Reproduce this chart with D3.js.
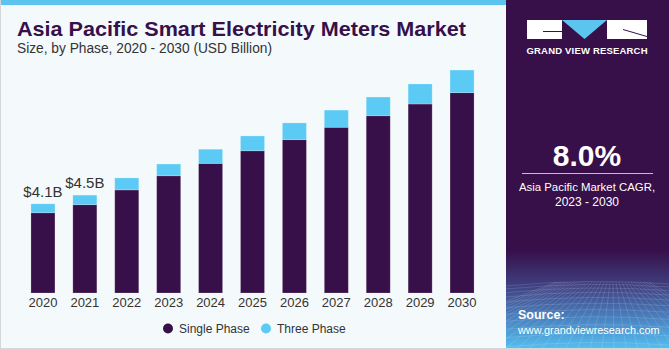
<!DOCTYPE html>
<html>
<head>
<meta charset="utf-8">
<script src="https://cdn.jsdelivr.net/npm/d3@7"></script>
<style>
  body { margin: 0; background: #fff; }
  svg { display: block; font-family: "Liberation Sans", Arial, sans-serif; }
</style>
</head>
<body>
<script>
let years = ["2020", "2021", "2022", "2023", "2024", "2025", "2026", "2027", "2028", "2029", "2030"];
let singlePhase = [3.69, 4.06, 4.74, 5.39, 5.96, 6.54, 7.05, 7.62, 8.15, 8.69, 9.21];
let threePhase = [0.41, 0.44, 0.55, 0.54, 0.65, 0.68, 0.77, 0.79, 0.86, 0.92, 1.04];
let valueLabels = [{year: "2020", text: "$4.1B"}, {year: "2021", text: "$4.5B"}];
let seriesNames = ["Single Phase", "Three Phase"];
let colors = ["#37104a", "#5bcbf5"];

let width = 670, height = 350;
let panelX = 506;

let svg = d3.select("body").append("svg").attr("width", width).attr("height", height);

// backgrounds
svg.append("rect").attr("width", width).attr("height", height).attr("fill", "#d4d6d9");
svg.append("rect").attr("x", 1).attr("y", 0).attr("width", panelX - 1).attr("height", 348).attr("fill", "#f4f9fc");
svg.append("rect").attr("x", 1).attr("y", 0).attr("width", panelX - 1).attr("height", 5).attr("fill", "#5bc5ef");

// right panel
let defs = svg.append("defs");
let grad = defs.append("linearGradient").attr("id", "panelGrad").attr("x1", 0).attr("y1", 0).attr("x2", 0).attr("y2", 1);
grad.append("stop").attr("offset", "0%").attr("stop-color", "#37104a");
grad.append("stop").attr("offset", "72%").attr("stop-color", "#37104a");
grad.append("stop").attr("offset", "82%").attr("stop-color", "#3f3f80");
grad.append("stop").attr("offset", "92%").attr("stop-color", "#4a86c4");
grad.append("stop").attr("offset", "100%").attr("stop-color", "#55bdee");
svg.append("rect").attr("x", panelX).attr("y", 0).attr("width", 669 - panelX).attr("height", 348).attr("fill", "url(#panelGrad)");

// grid texture at bottom of panel
let grid = svg.append("g").attr("stroke", "#ffffff").attr("stroke-opacity", 0.13).attr("fill", "none");
d3.range(0, 14).forEach(i => {
  let y0 = 282 + i * i * 0.35 + i * 2.6;
  grid.append("path").attr("d", `M${panelX},${y0 + 4} Q${panelX + 80},${y0 - 4} 669,${y0 + 2}`);
});
d3.range(-10, 22).forEach(i => {
  let xb = panelX + i * 12;
  grid.append("path").attr("d", `M${panelX + 80 + i * 3},282 L${xb},348`);
});

// logo
let logo = svg.append("g");
logo.append("rect").attr("x", 527).attr("y", 20).attr("width", 35).attr("height", 19).attr("fill", "#fff");
logo.append("path").attr("d", "M543,32 L562,32 L562,31 L543,31 Z").attr("fill", "#37104a");
logo.append("path").attr("d", "M562,20 L607,20 L584.5,39 Z").attr("fill", "#5bc5ef");
logo.append("rect").attr("x", 607).attr("y", 20).attr("width", 40).attr("height", 19).attr("fill", "#fff");
logo.append("path").attr("d", "M623,29 L647,36 L647,37 L623,30 Z").attr("fill", "#37104a");
logo.append("text").attr("x", 587).attr("y", 54).attr("text-anchor", "middle")
  .attr("fill", "#fff").attr("font-size", 9.5).attr("font-weight", "bold")
  .attr("textLength", 121).attr("lengthAdjust", "spacing")
  .text("GRAND VIEW RESEARCH");

// CAGR
svg.append("text").attr("x", 587).attr("y", 166).attr("text-anchor", "middle")
  .attr("fill", "#fff").attr("font-size", 30).attr("font-weight", "bold").text("8.0%");
svg.append("line").attr("x1", 522).attr("x2", 653).attr("y1", 173.5).attr("y2", 173.5)
  .attr("stroke", "#c9bcd2").attr("stroke-width", 1.2);
svg.append("text").attr("x", 587).attr("y", 190.5).attr("text-anchor", "middle")
  .attr("fill", "#fff").attr("font-size", 11.4)
  .text("Asia Pacific Market CAGR,");
svg.append("text").attr("x", 587).attr("y", 205.5).attr("text-anchor", "middle")
  .attr("fill", "#fff").attr("font-size", 12)
  .text("2023 - 2030");

// source
svg.append("text").attr("x", 518).attr("y", 319).attr("fill", "#fff")
  .attr("font-size", 12.5).attr("font-weight", "bold").text("Source:");
svg.append("text").attr("x", 518).attr("y", 334).attr("fill", "#fff")
  .attr("font-size", 10.9).text("www.grandviewresearch.com");

// titles
svg.append("text").attr("x", 17).attr("y", 36).attr("fill", "#37104a")
  .attr("font-size", 21).attr("font-weight", "bold")
  .attr("textLength", 449).attr("lengthAdjust", "spacingAndGlyphs")
  .text("Asia Pacific Smart Electricity Meters Market");
svg.append("text").attr("x", 17).attr("y", 53).attr("fill", "#333")
  .attr("font-size", 14).attr("textLength", 255).attr("lengthAdjust", "spacingAndGlyphs")
  .text("Size, by Phase, 2020 - 2030 (USD Billion)");

// chart
let data = years.map((y, i) => ({year: y, single: singlePhase[i], three: threePhase[i]}));
let stack = d3.stack().keys(["single", "three"])(data);

let x = d3.scaleBand().domain(years).range([22, 483]).paddingInner(0.427).paddingOuter(0.2135);
let y = d3.scaleLinear().domain([0, 10]).range([293, 75.5]);

let chart = svg.append("g");
chart.selectAll("g.series").data(stack).join("g")
  .attr("class", "series")
  .attr("fill", (d, i) => colors[i])
  .selectAll("rect").data(d => d).join("rect")
  .attr("x", d => x(d.data.year))
  .attr("y", d => y(d[1]))
  .attr("width", x.bandwidth())
  .attr("height", d => y(d[0]) - y(d[1]))
  .attr("stroke", "#ffffff").attr("stroke-opacity", 0.25).attr("stroke-width", 0.8);

let xAxis = d3.axisBottom(x).tickSize(0).tickPadding(5);
let axisG = svg.append("g").attr("transform", `translate(0,293)`).call(xAxis);
axisG.select(".domain").remove();
axisG.selectAll("text").attr("font-size", 13).attr("fill", "#333")
  .attr("font-family", "Liberation Sans, Arial, sans-serif");

// value labels
svg.selectAll("text.val").data(valueLabels).join("text")
  .attr("class", "val")
  .attr("x", d => x(d.year) + x.bandwidth() / 2)
  .attr("y", d => {
    let i = years.indexOf(d.year);
    return y(singlePhase[i] + threePhase[i]) - 7;
  })
  .attr("text-anchor", "middle").attr("font-size", 15).attr("fill", "#333")
  .text(d => d.text);

// legend
let legend = svg.append("g");
let legendX = [168, 266];
seriesNames.forEach((name, i) => {
  legend.append("circle").attr("cx", legendX[i]).attr("cy", 328.5).attr("r", 5).attr("fill", colors[i]);
  legend.append("text").attr("x", legendX[i] + 11).attr("y", 333).attr("font-size", 12)
    .attr("fill", "#333").text(name);
});
</script>
</body>
</html>
